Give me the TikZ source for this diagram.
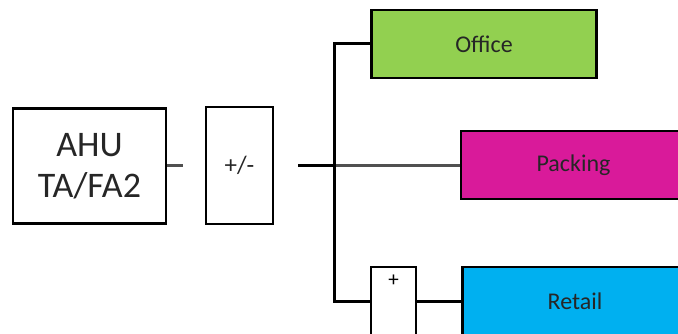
\documentclass[tikz,border=0pt]{standalone}
\usepackage{fontspec}
\setmainfont{Carlito}
\definecolor{officegreen}{HTML}{92D050}
\definecolor{packmag}{HTML}{D91A9A}
\definecolor{retailblue}{HTML}{00B0F0}
\definecolor{linkgray}{HTML}{505050}
\begin{document}
\begin{tikzpicture}[x=1pt,y=-1pt,
  box/.style={draw=black, line width=2.6pt, inner sep=0pt, align=center, text=black!85},
  zone/.style={box, minimum width=225pt, minimum height=68pt, font=\fontsize{24}{28}\selectfont},
  wire/.style={line width=3pt, black},
  graywire/.style={line width=3pt, linkgray},
]
\useasboundingbox (0,0) rectangle (678,334);
\clip (0,0) rectangle (678,334);
% boxes
\node[box, minimum width=153pt, minimum height=115pt, font=\fontsize{36}{41}\selectfont] (ahu) at (89.5,166) {AHU\\TA/FA2};
\node[box, minimum width=67pt, minimum height=117pt, font=\fontsize{25}{28}\selectfont] (pm) at (239.5,165.5) {+/-};
\node[zone, fill=officegreen] (office) at (484,44) {Office};
\node[zone, fill=packmag] (packing) at (573.5,165) {Packing};
\node[zone, fill=retailblue] (retail) at (575,301) {Retail};
\node[box, minimum width=45pt, minimum height=68pt,
      label={[anchor=north, inner sep=0pt, yshift=-9pt, font=\fontsize{21}{24}\selectfont]north:+}] (plus) at (393.5,301) {};
% connectors
\coordinate (ahuout) at (183,166);
\coordinate (pmout) at (298,166);
\coordinate (bustop) at (334,44);
\coordinate (busmid) at (334,166);
\coordinate (busbot) at (334,301);
\draw[graywire] (ahu.east |- ahuout) -- (ahuout);
\draw[graywire] (busmid) -- (packing.west |- busmid);
\draw[wire] (pmout) -- (busmid);
\draw[wire, line join=miter] (office.west |- bustop) -- (bustop) -- (busbot) -- (plus.west |- busbot);
\draw[wire] (plus.east |- busbot) -- (retail.west |- busbot);
\end{tikzpicture}
\end{document}
